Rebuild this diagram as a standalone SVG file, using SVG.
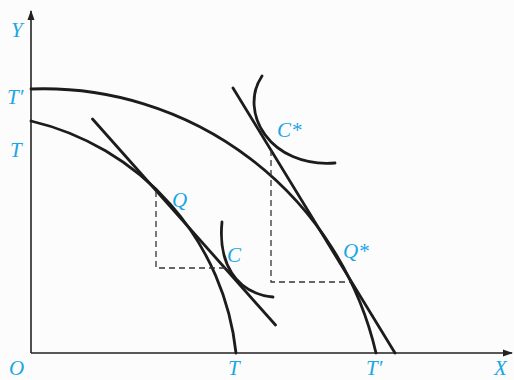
<svg xmlns="http://www.w3.org/2000/svg" width="514" height="380" viewBox="0 0 514 380">
<style>
.ax{stroke:#222;stroke-width:1.6;fill:none}
.cv{stroke:#1c1c1c;stroke-width:2.8;fill:none;stroke-linecap:round}
.ds{stroke:#333;stroke-width:1.3;fill:none;stroke-dasharray:6,4}
.lb{font-family:"Liberation Serif",serif;font-style:italic;font-size:21px;fill:#1aa6e4}
</style>
<defs>
<marker id="ar" viewBox="0 0 10 10" refX="9" refY="5" markerWidth="10" markerHeight="10" markerUnits="userSpaceOnUse" orient="auto">
<path d="M0,1.5 L10,5 L0,8.5 Z" fill="#222"/>
</marker>
</defs>
<rect width="514" height="380" fill="#fcfcfc"/>
<g id="axes">
<line class="ax" x1="31" y1="353" x2="31" y2="11" marker-end="url(#ar)"/>
<line class="ax" x1="31" y1="353" x2="512" y2="353" marker-end="url(#ar)"/>
</g>
<g id="connectors">
<path id="ppf-T" class="cv" d="M31,121 A267.7,267.7 0 0 1 236,353"/>
<path id="ppf-T2" class="cv" d="M31,89 A341.5,341.5 0 0 1 376,353"/>
<line id="tangent1" class="cv" x1="92.5" y1="119" x2="275.5" y2="325"/>
<line id="tangent2" class="cv" x1="233" y1="88" x2="395" y2="353"/>
<path id="ic-C" class="cv" d="M222,222 C218,262 235,293 273,297"/>
<path id="ic-Cstar" class="cv" d="M262,76 C238,112 270,168 335,163"/>
<path class="ds" d="M156,191 V268 H225"/>
<path class="ds" d="M271,150 V282 H351"/>
</g>
<g id="labels">
<text class="lb" x="11" y="37">Y</text>
<text class="lb" x="7" y="104">T′</text>
<text class="lb" x="10" y="157">T</text>
<text class="lb" x="9" y="375">O</text>
<text class="lb" x="228" y="375">T</text>
<text class="lb" x="366" y="375">T′</text>
<text class="lb" x="494" y="375">X</text>
<text class="lb" x="172" y="207">Q</text>
<text class="lb" x="227" y="262">C</text>
<text class="lb" x="277" y="137">C*</text>
<text class="lb" x="343" y="258">Q*</text>
</g>
</svg>
